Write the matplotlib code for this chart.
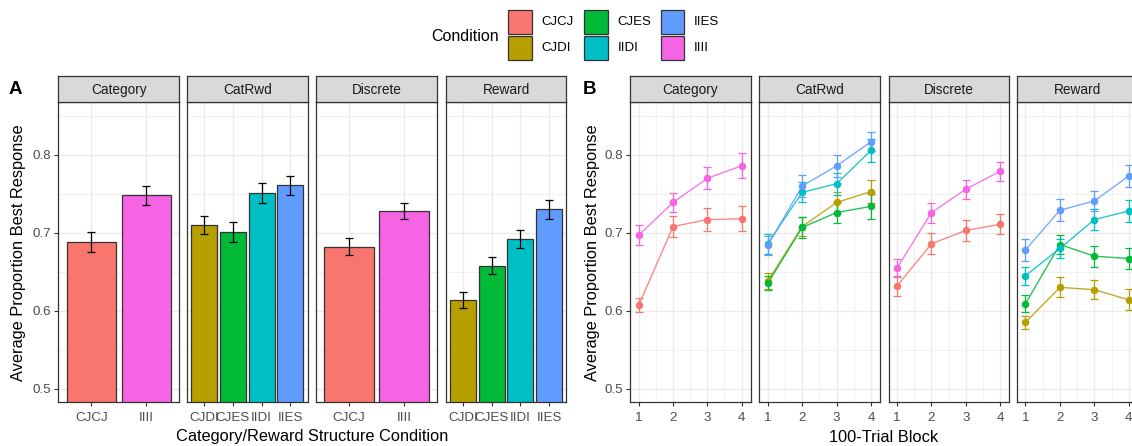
import matplotlib.pyplot as plt
import matplotlib.patches as mpatches
from matplotlib.ticker import FixedLocator

plt.rcParams['font.family'] = ['Liberation Sans', 'DejaVu Sans']

W, H = 1132, 446

conditions = ['CJCJ', 'CJDI', 'CJES', 'IIDI', 'IIES', 'IIII']
palette = ['#F8766D', '#B79F00', '#00BA38', '#00BFC4', '#619CFF', '#F564E3']
colors = dict(zip(conditions, palette))

structures = ['Category', 'CatRwd', 'Discrete', 'Reward']
facet_conds = {
    'Category': ['CJCJ', 'IIII'],
    'CatRwd': ['CJDI', 'CJES', 'IIDI', 'IIES'],
    'Discrete': ['CJCJ', 'IIII'],
    'Reward': ['CJDI', 'CJES', 'IIDI', 'IIES'],
}

# overall proportion best response per condition (mean, se)
bar_mean = {
    'Category': [0.688, 0.748],
    'CatRwd': [0.710, 0.701, 0.751, 0.761],
    'Discrete': [0.682, 0.728],
    'Reward': [0.614, 0.658, 0.692, 0.730],
}
bar_se = {
    'Category': [0.0125, 0.0125],
    'CatRwd': [0.012, 0.0125, 0.013, 0.012],
    'Discrete': [0.011, 0.010],
    'Reward': [0.010, 0.011, 0.011, 0.0125],
}

# learning curves over four 100-trial blocks
blocks = [1, 2, 3, 4]
block_mean = {
    'Category': {'CJCJ': [0.607, 0.708, 0.717, 0.718],
                 'IIII': [0.697, 0.739, 0.770, 0.786]},
    'CatRwd': {'CJDI': [0.638, 0.708, 0.739, 0.753],
               'CJES': [0.635, 0.707, 0.726, 0.734],
               'IIDI': [0.686, 0.752, 0.763, 0.806],
               'IIES': [0.684, 0.760, 0.786, 0.817]},
    'Discrete': {'CJCJ': [0.632, 0.686, 0.703, 0.711],
                 'IIII': [0.655, 0.726, 0.756, 0.779]},
    'Reward': {'CJDI': [0.585, 0.630, 0.627, 0.614],
               'CJES': [0.609, 0.685, 0.670, 0.667],
               'IIDI': [0.645, 0.680, 0.717, 0.728],
               'IIES': [0.678, 0.729, 0.741, 0.773]},
}
block_se = {
    'Category': {'CJCJ': [0.009, 0.0135, 0.0148, 0.016],
                 'IIII': [0.0125, 0.0125, 0.014, 0.016]},
    'CatRwd': {'CJDI': [0.010, 0.012, 0.0137, 0.0145],
               'CJES': [0.009, 0.0137, 0.014, 0.016],
               'IIDI': [0.013, 0.013, 0.014, 0.015],
               'IIES': [0.012, 0.014, 0.014, 0.012]},
    'Discrete': {'CJCJ': [0.0128, 0.0137, 0.013, 0.013],
                 'IIII': [0.012, 0.0128, 0.012, 0.012]},
    'Reward': {'CJDI': [0.0083, 0.0128, 0.0124, 0.0135],
               'CJES': [0.011, 0.012, 0.0135, 0.014],
               'IIDI': [0.0115, 0.012, 0.013, 0.014],
               'IIES': [0.014, 0.014, 0.013, 0.014]},
}

YLIM = (0.4825, 0.8675)
GRID = '#EBEBEB'
FRAME = '#333333'
TICK = '#4D4D4D'

fig = plt.figure(figsize=(W / 100, H / 100), dpi=100)


def px_axes(x0, x1, y0, y1):
    return fig.add_axes([x0 / W, 1 - y1 / H, (x1 - x0) / W, (y1 - y0) / H])


def strip(x0, x1, label):
    s = px_axes(x0, x1, 76, 102.3)
    s.set_facecolor('#D9D9D9')
    s.set_xticks([])
    s.set_yticks([])
    for sp in s.spines.values():
        sp.set_color(FRAME)
        sp.set_linewidth(0.9)
    s.text(0.5, 0.47, label, ha='center', va='center', fontsize=9.8,
           color='#1A1A1A', transform=s.transAxes)


def style_panel(ax, first):
    ax.set_ylim(*YLIM)
    ax.yaxis.set_major_locator(FixedLocator([0.5, 0.6, 0.7, 0.8]))
    ax.yaxis.set_minor_locator(FixedLocator([0.55, 0.65, 0.75, 0.85]))
    ax.grid(which='major', color=GRID, linewidth=1.0, zorder=0)
    ax.grid(which='minor', color=GRID, linewidth=0.5, zorder=0)
    ax.set_axisbelow(True)
    for sp in ax.spines.values():
        sp.set_color(FRAME)
        sp.set_linewidth(0.9)
    ax.tick_params(which='major', length=3, width=0.8, color=FRAME,
                   labelsize=9.6, labelcolor=TICK, pad=2)
    ax.tick_params(axis='x', which='major', pad=4)
    ax.tick_params(which='minor', length=0)
    if first:
        ax.set_yticklabels(['0.5', '0.6', '0.7', '0.8'])
    else:
        ax.tick_params(axis='y', which='both', length=0, labelleft=False)


# panel A: bars with standard error
a_cols = [(58.3, 179.3), (186.7, 307.7), (316, 437.3), (445.7, 566.3)]
for i, (name, (x0, x1)) in enumerate(zip(structures, a_cols)):
    ax = px_axes(x0, x1, 102.3, 402.3)
    conds = facet_conds[name]
    xs = list(range(1, len(conds) + 1))
    ax.bar(xs, bar_mean[name], width=0.9, bottom=0,
           color=[colors[c] for c in conds], edgecolor='#333333',
           linewidth=0.9, zorder=2)
    ax.errorbar(xs, bar_mean[name], yerr=bar_se[name], fmt='none',
                ecolor='black', elinewidth=0.9, capsize=3.2, capthick=0.9,
                zorder=3)
    ax.set_xlim(0.4, len(conds) + 0.6)
    ax.set_xticks(xs)
    ax.set_xticklabels(conds)
    ax.xaxis.set_minor_locator(FixedLocator([]))
    style_panel(ax, i == 0)
    strip(x0, x1, name)

# panel B: block-by-block learning curves
b_cols = [(630.3, 750.7), (759.3, 880.3), (888.7, 1009.3), (1017, 1138)]
for i, (name, (x0, x1)) in enumerate(zip(structures, b_cols)):
    ax = px_axes(x0, x1, 102.3, 402.3)
    for c in facet_conds[name]:
        m = block_mean[name][c]
        e = block_se[name][c]
        ax.plot(blocks, m, color=colors[c], linewidth=1.0, alpha=0.85, zorder=3)
        ax.errorbar(blocks, m, yerr=e, fmt='none', ecolor=colors[c],
                    elinewidth=0.9, capsize=2.6, capthick=0.9, zorder=3)
        ax.plot(blocks, m, 'o', color=colors[c], markersize=4.4, zorder=4)
    ax.set_xlim(0.755, 4.265)
    ax.set_xticks(blocks)
    ax.xaxis.set_minor_locator(FixedLocator([1.5, 2.5, 3.5]))
    style_panel(ax, i == 0)
    strip(x0, x1, name)

# axis titles and panel letters
fig.text(312.3 / W, 1 - 437 / H, 'Category/Reward Structure Condition',
         ha='center', va='center', fontsize=11.8, color='black')
fig.text(884 / W, 1 - 437 / H, '100-Trial Block',
         ha='center', va='center', fontsize=11.8, color='black')
fig.text(19 / W, 1 - 252.3 / H, 'Average Proportion Best Response',
         ha='center', va='center', rotation=90, fontsize=11.8, color='black')
fig.text(592 / W, 1 - 252.3 / H, 'Average Proportion Best Response',
         ha='center', va='center', rotation=90, fontsize=11.8, color='black')
fig.text(9 / W, 1 - 89 / H, 'A', ha='left', va='center', fontsize=13.5,
         fontweight='bold')
fig.text(583 / W, 1 - 89 / H, 'B', ha='left', va='center', fontsize=13.5,
         fontweight='bold')

# legend
fig.text(465 / W, 1 - 36.7 / H, 'Condition', ha='center', va='center',
         fontsize=11.5, color='black')
key_cols = [508.3, 584.3, 661]
key_rows = [10, 36]
for k, c in enumerate(conditions):
    col, row = divmod(k, 2)
    kx, ky = key_cols[col], key_rows[row]
    fig.patches.append(mpatches.Rectangle(
        (kx / W, 1 - (ky + 24) / H), 23.4 / W, 24 / H,
        transform=fig.transFigure, facecolor=colors[c],
        edgecolor='#333333', linewidth=0.9))
    fig.text((kx + 33) / W, 1 - (ky + 12) / H, c, ha='left', va='center',
             fontsize=9.5, color='black')

fig.savefig('out.png', dpi=100)
